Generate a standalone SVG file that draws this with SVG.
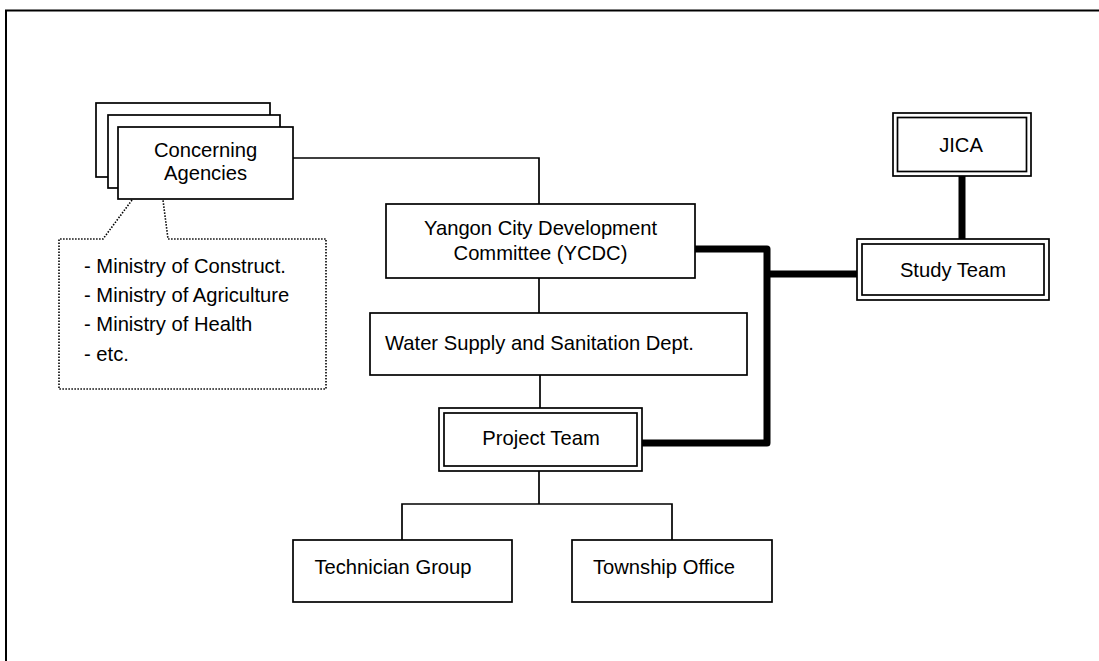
<svg xmlns="http://www.w3.org/2000/svg" width="1099" height="661" viewBox="0 0 1099 661">
<style>
text{font-family:"Liberation Sans",Arial,sans-serif;font-size:20.2px;fill:#000}
.c{text-anchor:middle}
.box{fill:#fff;stroke:#000;stroke-width:1.7}
.thin{fill:none;stroke:#000;stroke-width:1.7}
.thick{fill:none;stroke:#000;stroke-width:7;stroke-linejoin:round}
.dot{fill:#fff;stroke:#000;stroke-width:1.6;stroke-dasharray:1.5 1.5}
</style>
<rect width="1099" height="661" fill="#fff"/>
<g id="frame">
<path d="M6,661 V10.5 H1099" fill="none" stroke="#000" stroke-width="2"/>
</g>
<g id="connectors">
<path class="thin" d="M293,158 H539 V204"/>
<path class="thin" d="M539,278 V313"/>
<path class="thin" d="M540,375 V408"/>
<path class="thin" d="M539,471 V504 M402,540 V504 H672 V540"/>
<path class="thick" d="M695,249 H767 V443 H642"/>
<path class="thick" d="M767,274 H857"/>
<path class="thick" d="M962,176 V239"/>
</g>
<g id="callout">
<path class="dot" d="M132,200 L103,239 H59 V389 H326 V239 H168 L163,200"/>
<text x="84" y="273">- Ministry of Construct.</text>
<text x="84" y="302">- Ministry of Agriculture</text>
<text x="84" y="331">- Ministry of Health</text>
<text x="84" y="361">- etc.</text>
</g>
<g id="concerning-agencies">
<rect class="box" x="96" y="103" width="174" height="74"/>
<rect class="box" x="108" y="115" width="172" height="73"/>
<rect class="box" x="118" y="127" width="175" height="72"/>
<text class="c" x="205.5" y="157">Concerning</text>
<text class="c" x="205.5" y="180">Agencies</text>
</g>
<g id="ycdc">
<rect class="box" x="386" y="204" width="309" height="74"/>
<text class="c" x="540.5" y="235">Yangon City Development</text>
<text class="c" x="540.5" y="260">Committee (YCDC)</text>
</g>
<g id="water-supply">
<rect class="box" x="370" y="313" width="377" height="62"/>
<text x="385" y="350">Water Supply and Sanitation Dept.</text>
</g>
<g id="project-team">
<rect class="box" x="439" y="408" width="203" height="63"/>
<rect class="box" x="444" y="413" width="193" height="53"/>
<text class="c" x="541" y="445">Project Team</text>
</g>
<g id="technician-group">
<rect class="box" x="293" y="540" width="219" height="62"/>
<text class="c" x="393" y="574">Technician Group</text>
</g>
<g id="township-office">
<rect class="box" x="572" y="540" width="200" height="62"/>
<text class="c" x="664" y="574">Township Office</text>
</g>
<g id="jica">
<rect class="box" x="893" y="113" width="138" height="63"/>
<rect class="box" x="897.5" y="117.5" width="129" height="54"/>
<text class="c" x="961" y="152">JICA</text>
</g>
<g id="study-team">
<rect class="box" x="857" y="239" width="192" height="61"/>
<rect class="box" x="862" y="244" width="182" height="51"/>
<text class="c" x="953" y="277">Study Team</text>
</g>
</svg>
